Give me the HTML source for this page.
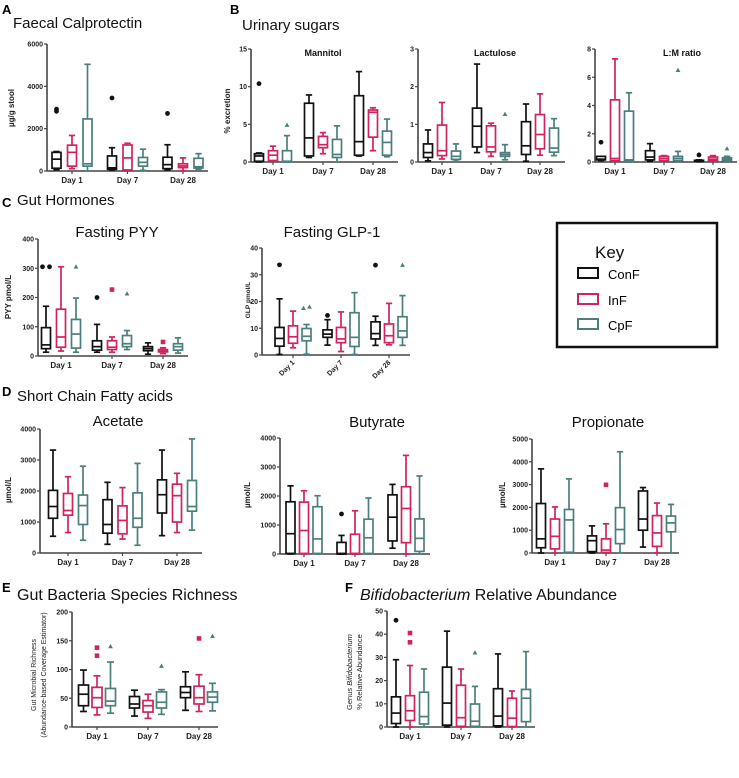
<!DOCTYPE html>
<html><head><meta charset="utf-8"><style>
html,body{margin:0;padding:0;background:#fff;}
svg{display:block;font-family:"Liberation Sans",Arial,sans-serif;}
</style></head><body>
<svg id="fig" width="739" height="778" viewBox="0 0 739 778" xmlns="http://www.w3.org/2000/svg">
<g font-weight="bold" font-size="13" fill="#000">
<text x="2" y="14">A</text>
<text x="230" y="14">B</text>
<text x="2" y="207">C</text>
<text x="2" y="396">D</text>
<text x="2" y="592">E</text>
<text x="345" y="592">F</text>
</g>
<g font-size="15" fill="#111">
<text x="13" y="28">Faecal Calprotectin</text>
<text x="242" y="30">Urinary sugars</text>
<text x="17" y="205">Gut Hormones</text>
<text x="17" y="401">Short Chain Fatty acids</text>
<text x="17" y="600" font-size="16">Gut Bacteria Species Richness</text>
<text x="360" y="600" font-size="16"><tspan font-style="italic">Bifidobacterium</tspan> Relative Abundance</text>
</g>
<g>
<rect x="557" y="223" width="160" height="124" fill="none" stroke="#111" stroke-width="2.5"/>
<text x="595" y="258" font-size="17" fill="#111">Key</text>
<rect x="578" y="268" width="20" height="10" fill="none" stroke="#111" stroke-width="2"/>
<text x="608" y="279" font-size="13">ConF</text>
<rect x="578" y="294" width="20" height="10" fill="none" stroke="#d1235f" stroke-width="2"/>
<text x="608" y="305" font-size="13">InF</text>
<rect x="578" y="319" width="20" height="10" fill="none" stroke="#4b7f7d" stroke-width="2"/>
<text x="608" y="330" font-size="13">CpF</text>
</g>
</svg>
<script>
var days = ["Day 1","Day 7","Day 28"];
var groups = ["ConF","InF","CpF"];
// each box: [max, q3, median, q1, min]; order D1 ConF,InF,CpF, D7..., D28...
var calproStats = [[920,880,560,130,60],[1680,1220,880,230,110],[5040,2460,340,230,0],[1100,710,150,80,50],[1310,1230,620,50,0],[1030,640,410,230,30],[1240,650,300,110,50],[620,340,240,160,0],[820,600,200,140,80]];
var calproOut = [[0,2820],[0,2920],[3,3450],[6,2720]];
var calproTicks = [0,2000,4000,6000];
var mannStats = [[1.2,1.1,0.8,0.1,0],[2.1,1.5,0.9,0.2,0.1],[3.5,1.5,0.1,0,0],[8.9,7.8,3.2,0.8,0.6],[3.9,3.4,2.3,1.9,1.1],[4.8,3.0,1.0,0.6,0],[12,8.8,2.7,0.9,0.8],[7.2,6.9,6.6,3.3,1.5],[5.7,4.1,2.6,0.9,0.7]];
var mannOut = [[0,10.4],[2,4.9]];
var mannTicks = [0,5,10,15];
var lactStats = [[0.85,0.48,0.25,0.12,0.03],[1.58,0.98,0.3,0.17,0.08],[0.48,0.29,0.15,0.07,0.02],[2.6,1.43,0.95,0.4,0.25],[1.03,0.96,0.4,0.27,0.15],[0.46,0.25,0.2,0.15,0.06],[1.54,1.07,0.43,0.2,0.02],[1.81,1.26,0.73,0.35,0.18],[1.15,0.9,0.37,0.26,0.17]];
var lactOut = [[5,1.27]];
var lactTicks = [0,1,2,3];
var lmStats = [[0.4,0.4,0.2,0.15,0.1],[7.3,4.4,0.25,0.1,0.05],[4.9,3.6,0.15,0.05,0],[1.3,0.8,0.35,0.15,0.05],[0.45,0.4,0.25,0.1,0.05],[0.75,0.4,0.25,0.1,0.05],[0.15,0.12,0.08,0.05,0.02],[0.45,0.35,0.2,0.1,0.05],[0.4,0.3,0.2,0.1,0.05]];
var lmOut = [[0,1.4],[5,6.5],[6,0.5],[8,0.95]];
var lmTicks = [0,2,4,6,8];
var pyyStats = [[170,97,38,25,13],[305,160,65,30,17],[198,125,75,27,13],[108,52,32,20,13],[65,52,30,22,13],[87,70,42,32,22],[45,32,25,18,6],[28,22,17,14,8],[62,42,32,20,10]];
var pyyOut = [[0,305,-3.5],[0,305,3.5],[2,305],[3,200],[4,227],[5,213],[7,48]];
var pyyTicks = [0,100,200,300,400];
var glpStats = [[21,10.3,6.2,3.3,0.2],[16.4,10.9,6.8,4.4,2.7],[11.4,9.9,7.0,5.3,0.3],[13.2,9.4,7.8,6.6,3.7],[16.1,10.3,6.0,4.6,1.3],[23.3,15.8,6.6,3.2,0.2],[14.5,12.4,8.0,6.0,3.6],[19.3,11.6,7.2,4.6,3.8],[22.2,14.3,9.0,6.6,3.6]];
var glpOut = [[0,33.7],[2,17.5,-3],[2,18,3],[3,14.8],[6,33.6],[8,33.6]];
var glpTicks = [0,10,20,30,40];
var aceStats = [[3320,2020,1500,1120,540],[2460,1920,1370,1220,660],[2800,1870,1530,920,410],[2280,1720,920,640,280],[2110,1520,1050,620,450],[2890,1940,1120,830,250],[3320,2360,1880,1290,560],[2570,2220,1850,1000,660],[3680,2340,1500,1350,740]];
var aceOut = [];
var aceTicks = [0,1000,2000,3000,4000];
var butStats = [[2350,1800,700,20,0],[2180,1790,810,20,0],[2010,1630,520,20,0],[640,400,20,0,0],[1490,680,20,0,0],[1930,1200,560,20,0],[2400,2040,1270,450,200],[3400,2320,1570,390,0],[2690,1210,540,90,0]];
var butOut = [[3,1380]];
var butTicks = [0,1000,2000,3000,4000];
var proStats = [[3690,2170,620,230,0],[2020,1490,730,180,0],[3250,1910,1450,30,0],[1190,750,540,60,0],[1280,620,130,20,0],[4440,1990,1030,410,0],[2870,2720,1490,1000,260],[2190,1640,880,290,0],[2130,1620,1320,930,0]];
var proOut = [[4,2990]];
var proTicks = [0,1000,2000,3000,4000,5000];
var richStats = [[99,73,57,37,27],[89,69,51,34,21],[113,67,45,37,24],[64,53,40,33,19],[57,46,37,26,15],[65,61,43,33,22],[96,70,60,51,29],[91,71,51,40,27],[76,61,52,43,28]];
var richOut = [[1,138],[1,124],[2,140],[5,106],[7,154],[8,158]];
var richTicks = [0,50,100,150,200];
var bifStats = [[29,13,6,1.5,0],[26.5,13.5,7,2.8,0],[25,15,4.5,1.3,0],[41.3,25.8,10.3,0.8,0],[25,18,4,0.3,0],[17.5,9.9,2.5,0.3,0],[31.5,16.5,4.7,0.5,0],[15.5,12.4,3.8,0.2,0],[32.5,16.2,12.4,2.3,0]];
var bifOut = [[0,46],[1,40.5],[1,36.5],[5,32]];
var bifTicks = [0,10,20,30,40,50];

var COLORS = ["#111111","#d1235f","#4b7f7d"];
var NS = "http://www.w3.org/2000/svg";
var svg = document.getElementById("fig");
function mk(tag, attrs, parent){var e=document.createElementNS(NS,tag);for(var k in attrs)e.setAttribute(k,attrs[k]);(parent||svg).appendChild(e);return e;}

function drawPanel(name, cfg, stats, outs, ticks){
  var g = mk("g",{});
  
  
  var ymax = ticks[ticks.length-1];
  function ys(v){return cfg.yb - (v/ymax)*(cfg.yb-cfg.yt);}
  function xs(i){var d=Math.floor(i/3), k=i%3; return cfg.c0 + d*cfg.gs + (k-1)*cfg.bo;}
  var ya = mk("line",{x1:cfg.x0,y1:cfg.yt,x2:cfg.x0,y2:cfg.yb,stroke:"#444","stroke-width":1.6},g);
  
  
  var xa = mk("line",{x1:cfg.x0,y1:cfg.yb,x2:cfg.x1,y2:cfg.yb,stroke:"#444","stroke-width":1.6},g);
  
  
  ticks.forEach(function(t){
    var y=ys(t);
    mk("line",{x1:cfg.x0-3,y1:y,x2:cfg.x0,y2:y,stroke:"#444","stroke-width":1.2},g);
    var tl = mk("text",{x:cfg.x0-4,y:y+2.5,"font-size":7,"font-weight":"bold","text-anchor":"end",fill:"#222"},g);
    tl.textContent = t;
    
    
  });
  days.forEach(function(d,j){
    var cx = cfg.c0 + j*cfg.gs;
    mk("line",{x1:cx,y1:cfg.yb,x2:cx,y2:cfg.yb+3,stroke:"#444","stroke-width":1.2},g);
    var dl;
    if(cfg.rot){
      dl = mk("text",{x:cx+2,y:cfg.yb+8,"font-size":7,"font-weight":"bold","text-anchor":"end",fill:"#222",transform:"rotate(-45 "+(cx+2)+" "+(cfg.yb+8)+")"},g);
    } else {
      dl = mk("text",{x:cx,y:cfg.yb+12,"font-size":8,"font-weight":"bold","text-anchor":"middle",fill:"#222"},g);
    }
    dl.textContent = d;
    
    
  });
  stats.forEach(function(s,i){
    var c = COLORS[i%3], x=xs(i), w=cfg.bw, cw=w*0.7;
    var bg = mk("g",{stroke:c,"stroke-width":1.7,fill:"none"},g);
    
    
    mk("line",{x1:x,y1:ys(s[0]),x2:x,y2:ys(s[1])},bg);
    mk("line",{x1:x,y1:ys(s[3]),x2:x,y2:ys(s[4])},bg);
    mk("line",{x1:x-cw/2,y1:ys(s[0]),x2:x+cw/2,y2:ys(s[0])},bg);
    mk("line",{x1:x-cw/2,y1:ys(s[4]),x2:x+cw/2,y2:ys(s[4])},bg);
    mk("rect",{x:x-w/2,y:ys(s[1]),width:w,height:Math.max(0.5,ys(s[3])-ys(s[1])),fill:"#fff"},bg);
    mk("line",{x1:x-w/2,y1:ys(s[2]),x2:x+w/2,y2:ys(s[2])},bg);
  });
  outs.forEach(function(o){
    var i=o[0], k=i%3, x=xs(i)+(o[2]||0), y=ys(o[1]), c=COLORS[k], m;
    if(k===0) m = mk("circle",{cx:x,cy:y,r:2.4,fill:c},g);
    else if(k===1) m = mk("rect",{x:x-2.3,y:y-2.3,width:4.6,height:4.6,fill:c},g);
    else m = mk("polygon",{points:(x)+","+(y-2.5)+" "+(x-2.4)+","+(y+1.8)+" "+(x+2.4)+","+(y+1.8),fill:c},g);
    
    
  });
  if(cfg.title){
    var tt = mk("text",{x:cfg.tx,y:cfg.ty,"font-size":cfg.tfs,"font-weight":cfg.tfw||"normal","text-anchor":"middle",fill:"#111"},g);
    tt.textContent = cfg.title;
    
    
  }
  cfg.ylab.forEach(function(l,j){
    var lx = cfg.lx + j*10, ly = cfg.ly;
    var yl = mk("text",{x:lx,y:ly,"font-size":cfg.lfs||8,"font-weight":cfg.lfw||"bold","text-anchor":"middle",fill:"#222",transform:"rotate(-90 "+lx+" "+ly+")"},g);
    yl.innerHTML = l;
    
    
  });
}

drawPanel("calprotectin",{x0:47,x1:208,yt:44,yb:171,c0:72,gs:55.5,bo:15.5,bw:9,ylab:["µg/g stool"],lx:14,ly:108},calproStats,calproOut,calproTicks);
drawPanel("mannitol",{x0:251,x1:398,yt:49,yb:162,c0:273,gs:50,bo:14,bw:9,title:"Mannitol",tx:323,ty:56,tfs:9,tfw:"bold",ylab:["% excretion"],lx:230,ly:111},mannStats,mannOut,mannTicks);
drawPanel("lactulose",{x0:418,x1:565,yt:49,yb:162,c0:442,gs:49,bo:14,bw:9,title:"Lactulose",tx:495,ty:56,tfs:9,tfw:"bold",ylab:[]},lactStats,lactOut,lactTicks);
drawPanel("lm-ratio",{x0:595,x1:737,yt:49,yb:162,c0:615,gs:49,bo:14,bw:9,title:"L:M ratio",tx:682,ty:56,tfs:9,tfw:"bold",ylab:[]},lmStats,lmOut,lmTicks);
drawPanel("pyy",{x0:38,x1:188,yt:239,yb:356,c0:61,gs:51,bo:15,bw:9,title:"Fasting PYY",tx:117,ty:237,tfs:15,ylab:["PYY pmol/L"],lx:11,ly:297},pyyStats,pyyOut,pyyTicks);
drawPanel("glp1",{x0:262,x1:410,yt:248,yb:355,c0:293,gs:48,bo:13.5,bw:9,rot:true,title:"Fasting GLP-1",tx:332,ty:237,tfs:15,ylab:["GLP pmol/L"],lx:250,ly:300,lfs:6.5},glpStats,glpOut,glpTicks);
drawPanel("acetate",{x0:40,x1:202,yt:429,yb:553,c0:68,gs:54.5,bo:15,bw:9,title:"Acetate",tx:118,ty:426,tfs:15,ylab:["µmol/L"],lx:11,ly:490},aceStats,aceOut,aceTicks);
drawPanel("butyrate",{x0:280,x1:430,yt:438,yb:554,c0:304,gs:51,bo:13.5,bw:9,title:"Butyrate",tx:377,ty:427,tfs:15,ylab:["µmol/L"],lx:250,ly:495},butStats,butOut,butTicks);
drawPanel("propionate",{x0:532,x1:679,yt:439,yb:553,c0:555,gs:51,bo:14,bw:9,title:"Propionate",tx:608,ty:427,tfs:15,ylab:["µmol/L"],lx:505,ly:495},proStats,proOut,proTicks);
drawPanel("richness",{x0:72,x1:218,yt:612,yb:727,c0:97,gs:51,bo:13.5,bw:10,ylab:["Gut Microbial Richness","(Abundance-based Coverage Estimator)"],lx:36,ly:675,lfs:7,lfw:"normal"},richStats,richOut,richTicks);
drawPanel("bifido",{x0:387,x1:535,yt:611,yb:727,c0:410,gs:51,bo:14,bw:9,ylab:["Genus <tspan font-style='italic'>Bifidobacterium</tspan>","% Relative Abundance"],lx:352,ly:672,lfs:7.5,lfw:"normal"},bifStats,bifOut,bifTicks);
</script>
</body></html>
